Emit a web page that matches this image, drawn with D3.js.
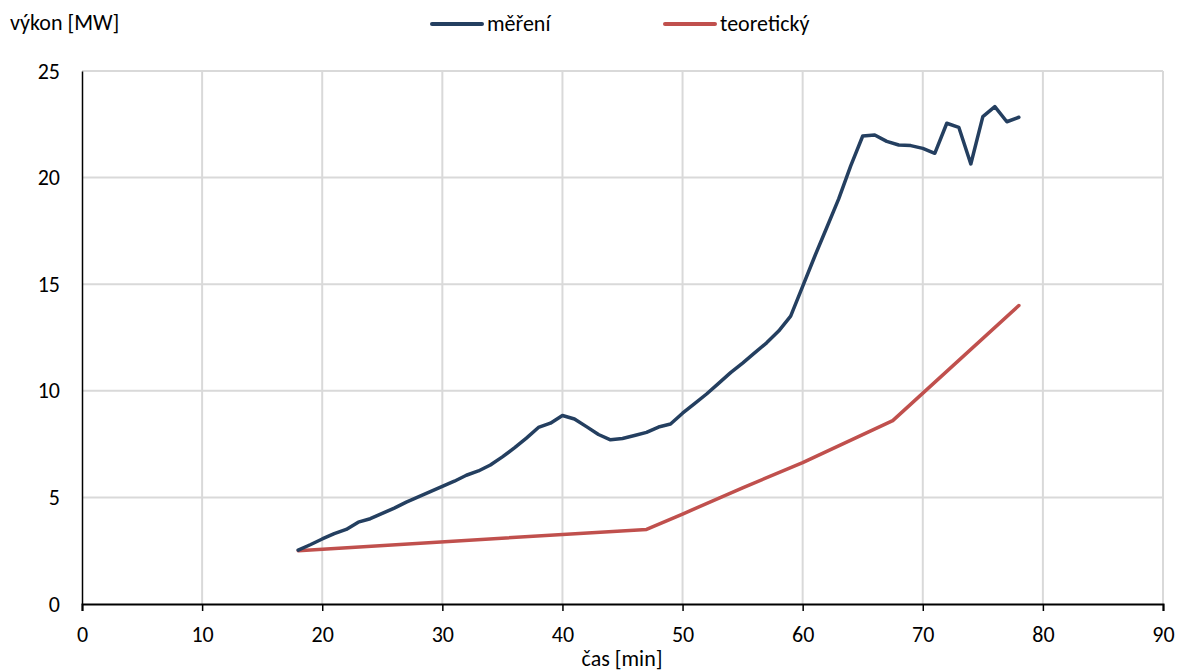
<!DOCTYPE html>
<html><head><meta charset="utf-8">
<script src="https://cdn.jsdelivr.net/npm/d3@7/dist/d3.min.js"></script>
<style>
html,body{margin:0;padding:0;background:#fff;}
text{font-family:Carlito,"Liberation Sans Narrow","Open Sans",sans-serif;fill:#000;}
</style></head><body>
<svg id="chart" width="1178" height="671"></svg>
<script>
const measuredMinutes = [18,19,20,21,22,23,24,25,26,27,28,29,30,31,32,33,34,35,36,37,38,39,40,41,42,43,44,45,46,47,48,49,50,51,52,53,54,55,56,57,58,59,60,61,62,63,64,65,66,67,68,69,70,71,72,73,74,75,76,77,78];
const measuredValues = [2.53,2.78,3.05,3.3,3.5,3.84,4.0,4.25,4.5,4.78,5.02,5.27,5.52,5.76,6.04,6.24,6.52,6.9,7.32,7.78,8.28,8.48,8.84,8.68,8.32,7.95,7.7,7.76,7.9,8.05,8.3,8.44,8.95,9.4,9.85,10.35,10.85,11.3,11.78,12.25,12.8,13.5,14.9,16.3,17.65,19.0,20.55,21.95,22.0,21.7,21.53,21.5,21.37,21.14,22.55,22.36,20.64,22.86,23.33,22.62,22.83];
const theoryMinutes = [18,47,50,55,60,67.5,78];
const theoryValues = [2.5,3.5,4.22,5.45,6.63,8.6,14.0];
const xTicks = [0,10,20,30,40,50,60,70,80,90];
const yTicks = [0,5,10,15,20,25];
const seriesNames = ["měření","teoretický"];
const seriesColors = ["#243f60","#c0504d"];

const svg = d3.select("#chart");
const mLeft=82, mRight=1163, mTop=71, mBottom=604;
const x = d3.scaleLinear().domain([0,90]).range([mLeft,mRight]);
const y = d3.scaleLinear().domain([0,25]).range([mBottom,mTop]);
const FONT = 'Carlito,"Liberation Sans Narrow","Open Sans",sans-serif';
const FS = 22;

// grid
svg.append("g").selectAll("line").data(xTicks.filter(d=>d>0)).join("line")
  .attr("x1",d=>x(d)).attr("x2",d=>x(d)).attr("y1",mTop).attr("y2",mBottom)
  .attr("stroke","#d9d9d9").attr("stroke-width",2);
svg.append("g").selectAll("line").data(yTicks.filter(d=>d>0)).join("line")
  .attr("x1",mLeft).attr("x2",mRight).attr("y1",d=>y(d)).attr("y2",d=>y(d))
  .attr("stroke","#d9d9d9").attr("stroke-width",2);

// axes
const xAxis = svg.append("g").attr("transform",`translate(0,${mBottom})`)
  .call(d3.axisBottom(x).tickValues(xTicks).tickSize(7).tickPadding(15).tickFormat(d3.format("d")));
xAxis.select(".domain").attr("stroke","#000").attr("stroke-width",2);
xAxis.selectAll(".tick line").attr("stroke","#000").attr("stroke-width",1.5);
xAxis.selectAll("text").attr("font-size",FS).style("font-family",FONT);

const yAxis = svg.append("g").attr("transform",`translate(${mLeft},0)`)
  .call(d3.axisLeft(y).tickValues(yTicks).tickSize(0).tickPadding(22).tickFormat(d3.format("d")));
yAxis.select(".domain").attr("stroke","#000").attr("stroke-width",1.5);
yAxis.selectAll("text").attr("font-size",FS).style("font-family",FONT);

// lines
const line = d3.line().x(d=>x(d[0])).y(d=>y(d[1]));
const measured = measuredMinutes.map((m,i)=>[m,measuredValues[i]]);
const theory = theoryMinutes.map((m,i)=>[m,theoryValues[i]]);
svg.append("path").datum(theory).attr("d",line).attr("fill","none")
  .attr("stroke",seriesColors[1]).attr("stroke-width",3.5).attr("stroke-linejoin","round").attr("stroke-linecap","round");
svg.append("path").datum(measured).attr("d",line).attr("fill","none")
  .attr("stroke",seriesColors[0]).attr("stroke-width",3.5).attr("stroke-linejoin","round").attr("stroke-linecap","round");

// titles
svg.append("text").attr("x",10).attr("y",30).attr("font-size",FS).text("výkon [MW]");
svg.append("text").attr("x",622).attr("y",666).attr("text-anchor","middle").attr("font-size",FS).text("čas [min]");

// legend
const legX = [432,665];
seriesNames.forEach((n,i)=>{
  const g = svg.append("g");
  g.append("line").attr("x1",legX[i]).attr("x2",legX[i]+50).attr("y1",24).attr("y2",24)
    .attr("stroke",seriesColors[i]).attr("stroke-width",4).attr("stroke-linecap","round");
  g.append("text").attr("x",legX[i]+55).attr("y",31).attr("font-size",FS).text(n);
});
</script>
</body></html>
